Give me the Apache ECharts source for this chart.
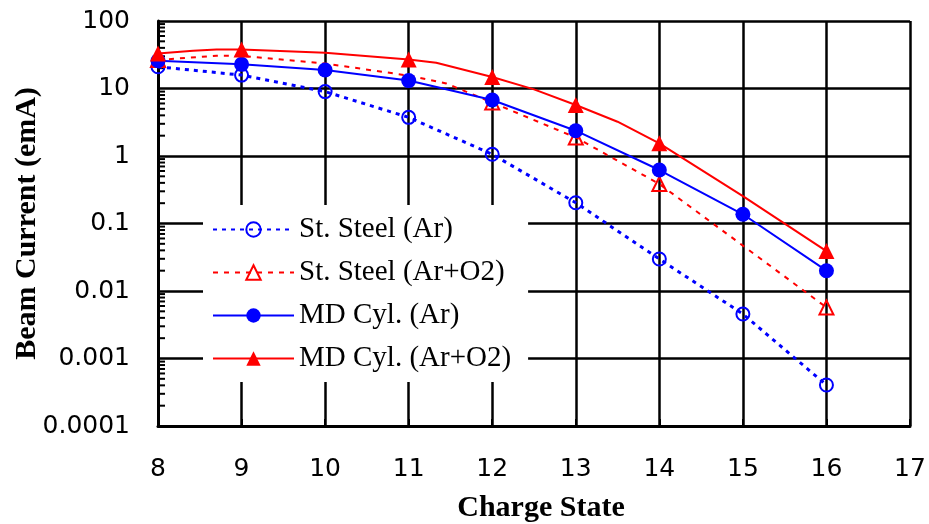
<!DOCTYPE html>
<html>
<head>
<meta charset="utf-8">
<script src="https://cdn.jsdelivr.net/npm/echarts@6/dist/echarts.min.js"></script>
<style>
html,body{margin:0;padding:0;background:#fff;}
#chart{width:929px;height:524px;}
</style>
</head>
<body>
<div id="chart"></div>
<script>
// ---- data ----
const xTicks = [8, 9, 10, 11, 12, 13, 14, 15, 16, 17];
const yTicks = [0.0001, 0.001, 0.01, 0.1, 1, 10, 100];

const ssArX = [8, 9, 10, 11, 12, 13, 14, 15, 16];
const ssArY = [21, 15.8, 9.0, 3.74, 1.06, 0.203, 0.0298, 0.00456, 0.000405];
const ssArMarks = [8, 9, 10, 11, 12, 13, 14, 15, 16];

const ssArO2X = [8, 8.7, 9, 10, 11, 11.45, 12, 13, 14, 15, 16];
const ssArO2Y = [26.5, 30.6, 30.5, 23.5, 15.5, 11.9, 6.2, 1.88, 0.385, 0.047, 0.0057];
const ssArO2Marks = [8, 12, 13, 14, 16];

const mdArX = [8, 9, 10, 11, 12, 13, 14, 15, 16];
const mdArY = [25.8, 22.8, 18.8, 13.1, 6.76, 2.37, 0.62, 0.137, 0.020];
const mdArMarks = [8, 9, 10, 11, 12, 13, 14, 15, 16];

const mdArO2X = [8, 8.42, 8.7, 9, 10, 11, 11.33, 12, 12.5, 13, 13.5, 14, 15, 16];
const mdArO2Y = [33, 36.3, 37.9, 37.8, 33.9, 26.9, 24.1, 14.8, 9.7, 5.7, 3.22, 1.54, 0.255, 0.039];
const mdArO2Marks = [8, 9, 11, 12, 13, 14, 16];

const seriesNames = ['St. Steel (Ar)', 'St. Steel (Ar+O2)', 'MD Cyl. (Ar)', 'MD Cyl. (Ar+O2)'];

// minor log ticks 2..9 x 10^k
const minorTickValues = [];
for (let k = -4; k <= 1; k++) {
  for (let m = 2; m <= 9; m++) minorTickValues.push(+(m * Math.pow(10, k)).toPrecision(2));
}

function buildData(xs, ys, marks) {
  return xs.map((x, i) => {
    const item = { value: [x, ys[i]] };
    if (marks.indexOf(x) < 0) item.symbol = 'none';
    return item;
  });
}

const chart = echarts.init(document.getElementById('chart'), null, { renderer: 'canvas' });

const option = {
  animation: false,
  backgroundColor: '#ffffff',
  grid: { left: 158, right: 19, top: 21, bottom: 98, show: false, containLabel: false, outerBoundsMode: 'none' },
  legend: {
    data: seriesNames,
    orient: 'vertical',
    left: 203,
    top: 205,
    itemWidth: 81,
    itemHeight: 18,
    itemGap: 14,
    padding: [10, 17, 9, 9],
    backgroundColor: '#ffffff',
    textStyle: { fontFamily: 'Liberation Serif, Times New Roman, serif', fontSize: 29, color: '#000' },
    selectedMode: false
  },
  xAxis: {
    type: 'value',
    min: 8, max: 17, interval: 1,
    name: 'Charge State',
    nameLocation: 'middle',
    nameGap: 67,
    nameMoveOverlap: false,
    nameTextStyle: { fontFamily: 'Liberation Serif, Times New Roman, serif', fontWeight: 'bold', fontSize: 30, color: '#000', padding: [0, 0, 0, 14] },
    axisLine: { show: true, onZero: false, lineStyle: { color: '#000', width: 3 } },
    axisTick: { show: true, inside: true, length: 7, lineStyle: { color: '#000', width: 2 } },
    axisLabel: { margin: 31, fontFamily: 'DejaVu Sans, Arial, sans-serif', fontSize: 25, color: '#000',
      formatter: v => (xTicks.indexOf(v) >= 0 ? String(v) : '') },
    splitLine: { show: true, lineStyle: { color: '#000', width: 2.5 } }
  },
  yAxis: {
    type: 'log',
    logBase: 10,
    min: 0.0001, max: 100,
    splitNumber: 6,
    name: 'Beam Current (emA)',
    nameLocation: 'middle',
    nameGap: 116,
    nameMoveOverlap: false,
    nameTextStyle: { fontFamily: 'Liberation Serif, Times New Roman, serif', fontWeight: 'bold', fontSize: 30, color: '#000' },
    axisLine: { show: true, lineStyle: { color: '#000', width: 3 } },
    axisTick: { show: false },
    axisLabel: { margin: 28, fontFamily: 'DejaVu Sans, Arial, sans-serif', fontSize: 25, color: '#000',
      formatter: v => { const r = +(+v).toPrecision(1); return yTicks.indexOf(r) >= 0 ? String(r) : ''; } },
    splitLine: { show: true, lineStyle: { color: '#000', width: 2.5 } }
  },
  series: [
    {
      type: 'custom',
      name: 'minorTicks',
      silent: true,
      z: 1,
      data: minorTickValues.map(v => [8, v]),
      renderItem: function (params, api) {
        const p = api.coord([api.value(0), api.value(1)]);
        return { type: 'line', shape: { x1: p[0], y1: p[1], x2: p[0] + 7, y2: p[1] }, style: { stroke: '#000', lineWidth: 2 } };
      }
    },
    {
      name: seriesNames[0],
      type: 'line',
      z: 3,
      data: buildData(ssArX, ssArY, ssArMarks),
      symbol: 'circle',
      symbolSize: 13,
      lineStyle: { color: '#0000ff', width: 3, type: [4, 5] },
      itemStyle: { color: 'rgba(255,255,255,0)', borderColor: '#0000ff', borderWidth: 2 }
    },
    {
      name: seriesNames[1],
      type: 'line',
      z: 4,
      data: buildData(ssArO2X, ssArO2Y, ssArO2Marks),
      symbol: 'triangle',
      symbolSize: 14,
      lineStyle: { color: '#ff0000', width: 2, type: [5, 6] },
      itemStyle: { color: 'rgba(255,255,255,0)', borderColor: '#ff0000', borderWidth: 2 }
    },
    {
      name: seriesNames[2],
      type: 'line',
      z: 5,
      data: buildData(mdArX, mdArY, mdArMarks),
      symbol: 'circle',
      symbolSize: 15,
      lineStyle: { color: '#0000ff', width: 2 },
      itemStyle: { color: '#0000ff', borderColor: '#0000ff', borderWidth: 0 }
    },
    {
      name: seriesNames[3],
      type: 'line',
      z: 6,
      data: buildData(mdArO2X, mdArO2Y, mdArO2Marks),
      symbol: 'triangle',
      symbolSize: 16,
      lineStyle: { color: '#ff0000', width: 2 },
      itemStyle: { color: '#ff0000', borderColor: '#ff0000', borderWidth: 0 }
    }
  ]
};
chart.setOption(option);
</script>
</body>
</html>
